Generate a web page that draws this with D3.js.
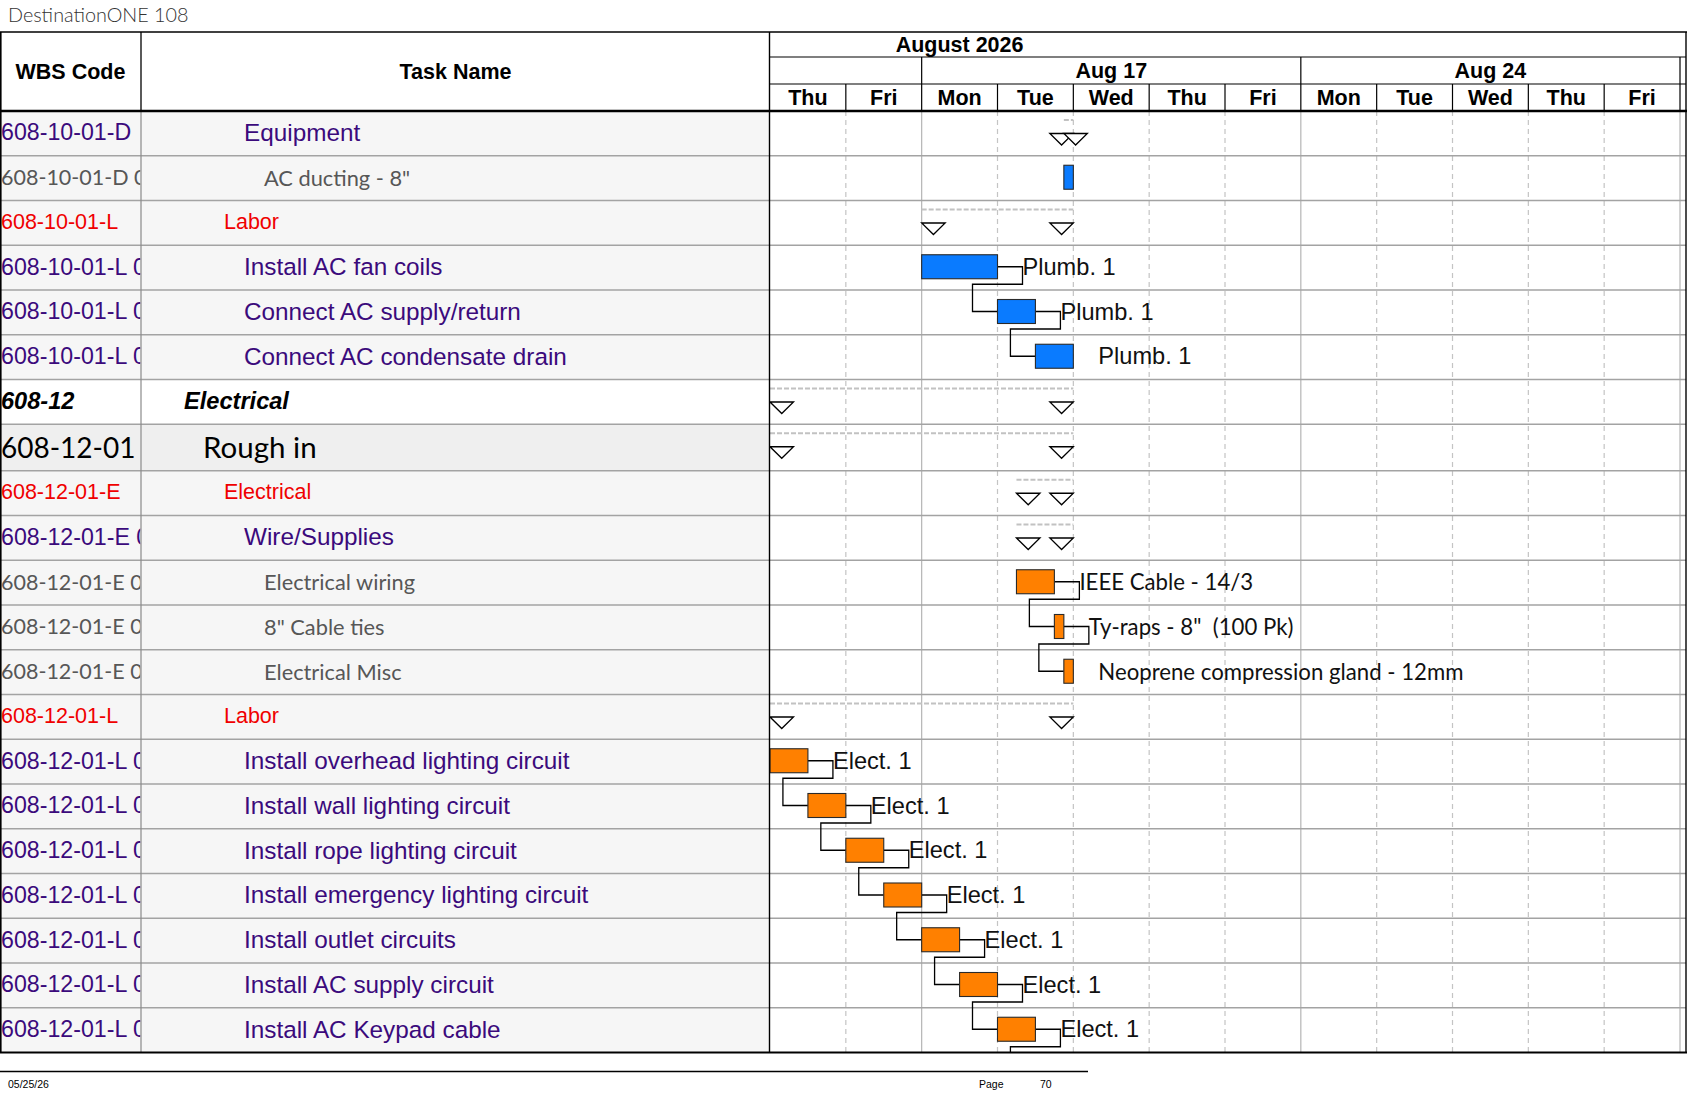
<!DOCTYPE html>
<html>
<head>
<meta charset="utf-8">
<script src="https://cdn.jsdelivr.net/npm/d3@7/dist/d3.min.js"></script>
<style>
  body { margin: 0; background: #fff; }
  svg { display: block; }
</style>
</head>
<body>
<svg id="chart" width="1687" height="1097"></svg>
<script>
// ---------------- DATA ----------------
const titleText = "DestinationONE 108";
const monthLabel = "August 2026";
const dayLabels = ["Thu", "Fri", "Mon", "Tue", "Wed", "Thu", "Fri", "Mon", "Tue", "Wed", "Thu", "Fri"];
const weekLabels = ["", "Aug 17", "Aug 24", ""];
const weekStartDays = [0, 2, 7, 12];
const hoursPerDay = 8;

const wbsCodes = [
  "608-10-01-D", "608-10-01-D 0100", "608-10-01-L", "608-10-01-L 0100", "608-10-01-L 0200",
  "608-10-01-L 0300", "608-12", "608-12-01", "608-12-01-E", "608-12-01-E 01",
  "608-12-01-E 0100", "608-12-01-E 0200", "608-12-01-E 0300", "608-12-01-L", "608-12-01-L 0100",
  "608-12-01-L 0200", "608-12-01-L 0300", "608-12-01-L 0400", "608-12-01-L 0500", "608-12-01-L 0600",
  "608-12-01-L 0700"
];
const taskNames = [
  "Equipment", "AC ducting - 8\"", "Labor", "Install AC fan coils", "Connect AC supply/return",
  "Connect AC condensate drain", "Electrical", "Rough in", "Electrical", "Wire/Supplies",
  "Electrical wiring", "8\" Cable ties", "Electrical Misc", "Labor", "Install overhead lighting circuit",
  "Install wall lighting circuit", "Install rope lighting circuit", "Install emergency lighting circuit",
  "Install outlet circuits", "Install AC supply circuit", "Install AC Keypad cable"
];
// row kind: group / section / phase / sub (summaries), item / task (bars)
const rowKinds = [
  "sub", "item", "phase", "task", "task", "task", "group", "section", "phase", "sub",
  "item", "item", "item", "phase", "task", "task", "task", "task", "task", "task", "task"
];
const rowTrades = [
  "P", "P", "P", "P", "P", "P", "E", "E", "E", "E",
  "E", "E", "E", "E", "E", "E", "E", "E", "E", "E", "E"
];
// working hours counted from Thu Aug 13, 08:00
const startHours = [31, 31, 16, 16, 24, 28, 0, 0, 26, 26, 26, 30, 31, 0, 0, 4, 8, 12, 16, 20, 24];
const endHours   = [32, 32, 32, 24, 28, 32, 32, 32, 32, 32, 30, 31, 32, 32, 4, 8, 12, 16, 20, 24, 28];
const resourceLabels = [
  "", "", "", "Plumb. 1", "Plumb. 1", "Plumb. 1", "", "", "", "",
  "IEEE Cable - 14/3", "Ty-raps - 8\"  (100 Pk)", "Neoprene compression gland - 12mm", "",
  "Elect. 1", "Elect. 1", "Elect. 1", "Elect. 1", "Elect. 1", "Elect. 1", "Elect. 1"
];
// finish-to-start links [predecessor, successor]; successor 21 lies on the next page
const links = [[3, 4], [4, 5], [10, 11], [11, 12], [14, 15], [15, 16], [16, 17], [17, 18], [18, 19], [19, 20], [20, 21]];
const nextPageStartHour = 28;
const footerDate = "05/25/26";
const footerPage = "70";

// ---------------- LAYOUT / STYLE ----------------
const W = 1687, H = 1097;
const tableTop = 32, headerBottom = 111;
const wbsRight = 141, taskRight = 770, gridRight = 1686;
const ARIAL = "'Liberation Sans', Arial, sans-serif";
const SOFT = "Lato, 'Open Sans', sans-serif";
const PURPLE = "#3b0a7c", RED = "#f00000", GREY = "#575757";

const kindStyle = {
  group:   { font: ARIAL, size: 23.6, codeSize: 23.6, weight: "bold", italic: true, color: "#000", indent: 184, bg: "#ffffff", h: 44.75, summary: true },
  section: { font: SOFT, size: 29.5, codeSize: 28, weight: "normal", italic: false, color: "#000", indent: 203, bg: "#efefef", h: 46.5, summary: true },
  phase:   { font: ARIAL, size: 21.5, codeSize: 21.5, weight: "normal", italic: false, color: RED, indent: 224, bg: "#f6f6f6", h: 44.75, summary: true },
  sub:     { font: ARIAL, size: 24.3, codeSize: 23.2, weight: "normal", italic: false, color: PURPLE, indent: 244, bg: "#f6f6f6", h: 44.75, summary: true },
  task:    { font: ARIAL, size: 24.3, codeSize: 23.2, weight: "normal", italic: false, color: PURPLE, indent: 244, bg: "#f6f6f6", h: 44.75, summary: false },
  item:    { font: SOFT, size: 21.8, codeSize: 21.5, weight: "normal", italic: false, color: GREY, indent: 264, bg: "#f6f6f6", h: 44.75, summary: false }
};
const tradeColor = { P: "#0a7bff", E: "#ff8000" };

const rowHeights = rowKinds.map(k => kindStyle[k].h);
const rowTops = [headerBottom, ...Array.from(d3.cumsum(rowHeights), v => headerBottom + v)];
const tableBottom = rowTops[rowKinds.length];

const x = d3.scaleLinear().domain([0, dayLabels.length * hoursPerDay]).range([taskRight, 1680]);
const rowIdx = d3.range(rowKinds.length);

const svg = d3.select("#chart");

// title
svg.append("text").attr("x", 8).attr("y", 22)
  .style("font-family", SOFT).style("font-size", "19.8px").style("font-weight", 300).style("fill", "#333")
  .text(titleText);

// ---------- left table backgrounds ----------
svg.append("g").selectAll("rect").data(rowIdx).join("rect")
  .attr("x", 0).attr("y", i => rowTops[i]).attr("width", taskRight).attr("height", i => rowHeights[i])
  .attr("fill", i => kindStyle[rowKinds[i]].bg);

// ---------- gantt grid ----------
const grid = svg.append("g");
const dayBounds = d3.range(1, dayLabels.length + 1);
grid.selectAll("line").data(dayBounds).join("line")
  .attr("x1", i => x(i * hoursPerDay)).attr("x2", i => x(i * hoursPerDay))
  .attr("y1", headerBottom).attr("y2", tableBottom)
  .attr("stroke", i => weekStartDays.includes(i) ? "#b4b4b4" : "#c4c4c4")
  .attr("stroke-width", 1.2)
  .attr("stroke-dasharray", i => weekStartDays.includes(i) ? null : "5,4");

// horizontal row lines
svg.append("g").selectAll("line").data(rowIdx.slice(1)).join("line")
  .attr("x1", 0).attr("x2", gridRight)
  .attr("y1", i => rowTops[i]).attr("y2", i => rowTops[i])
  .attr("stroke", "#a3a3a3").attr("stroke-width", 1.4);

// WBS column separator
svg.append("line").attr("x1", wbsRight).attr("x2", wbsRight).attr("y1", headerBottom).attr("y2", tableBottom)
  .attr("stroke", "#8a8a8a").attr("stroke-width", 1.2);

// ---------- left table text ----------
const defs = svg.append("defs");
defs.append("clipPath").attr("id", "clipWbs").append("rect")
  .attr("x", 0).attr("y", headerBottom).attr("width", wbsRight - 0.8).attr("height", tableBottom - headerBottom);
defs.append("clipPath").attr("id", "clipTask").append("rect")
  .attr("x", wbsRight).attr("y", headerBottom).attr("width", taskRight - wbsRight).attr("height", tableBottom - headerBottom);
defs.append("clipPath").attr("id", "clipGantt").append("rect")
  .attr("x", taskRight).attr("y", headerBottom).attr("width", gridRight - taskRight).attr("height", tableBottom - headerBottom);

function styleText(sel, sizeKey) {
  sel.style("font-family", i => kindStyle[rowKinds[i]].font)
    .style("font-size", i => kindStyle[rowKinds[i]][sizeKey] + "px")
    .style("font-weight", i => kindStyle[rowKinds[i]].weight)
    .style("font-style", i => kindStyle[rowKinds[i]].italic ? "italic" : "normal")
    .style("fill", i => kindStyle[rowKinds[i]].color)
    .attr("dominant-baseline", "central");
}
svg.append("g").attr("clip-path", "url(#clipWbs)").selectAll("text").data(rowIdx).join("text")
  .attr("x", 1).attr("y", i => rowTops[i] + rowHeights[i] / 2 - 1)
  .text(i => wbsCodes[i]).call(styleText, "codeSize");
svg.append("g").attr("clip-path", "url(#clipTask)").selectAll("text").data(rowIdx).join("text")
  .attr("x", i => kindStyle[rowKinds[i]].indent).attr("y", i => rowTops[i] + rowHeights[i] / 2 - 1)
  .text(i => taskNames[i]).call(styleText, "size");

// ---------- gantt marks ----------
const gantt = svg.append("g").attr("clip-path", "url(#clipGantt)");
const barTop = i => rowTops[i] + 9.5;
const barH = 24;
const barMid = i => barTop(i) + barH / 2;

// summaries
const sumIdx = rowIdx.filter(i => kindStyle[rowKinds[i]].summary);
gantt.append("g").selectAll("line").data(sumIdx).join("line")
  .attr("x1", i => x(startHours[i])).attr("x2", i => x(endHours[i]))
  .attr("y1", i => rowTops[i] + 9).attr("y2", i => rowTops[i] + 9)
  .attr("stroke", "#c2c2c2").attr("stroke-width", 2.2).attr("stroke-dasharray", "5,2");
const triW = 23.5, triH = 11.5;
const triTop = i => rowTops[i] + 22.5;
gantt.append("g").selectAll("path").data(sumIdx).join("path")
  .attr("d", i => { const xe = x(endHours[i]), t = triTop(i);
    return `M${xe - triW},${t}L${xe},${t}L${xe - triW / 2},${t + triH}Z`; })
  .attr("fill", "#fff").attr("stroke", "#000").attr("stroke-width", 1.3);
gantt.append("g").selectAll("path").data(sumIdx).join("path")
  .attr("d", i => { const xs = x(startHours[i]), t = triTop(i);
    return `M${xs},${t}L${xs + triW},${t}L${xs + triW / 2},${t + triH}Z`; })
  .attr("fill", "#fff").attr("stroke", "#000").attr("stroke-width", 1.3);

// links
function startOf(j) { return j < rowKinds.length ? startHours[j] : nextPageStartHour; }
function midOf(j) { return j < rowKinds.length ? barMid(j) : tableBottom + 9.5 + barH / 2; }
gantt.append("g").selectAll("path").data(links).join("path")
  .attr("d", ([p, s]) => {
    const x1 = x(endHours[p]), y1 = barMid(p);
    const xr = x1 + 25, yb = barTop(p) + barH + 5.5;
    const x2 = x(startOf(s)), xl = x2 - 25, y2 = midOf(s);
    return `M${x1},${y1}H${xr}V${yb}H${xl}V${y2}H${x2}`;
  })
  .attr("fill", "none").attr("stroke", "#000").attr("stroke-width", 1.3);

// task bars
const barIdx = rowIdx.filter(i => !kindStyle[rowKinds[i]].summary);
gantt.append("g").selectAll("rect").data(barIdx).join("rect")
  .attr("x", i => x(startHours[i])).attr("y", barTop)
  .attr("width", i => x(endHours[i]) - x(startHours[i])).attr("height", barH)
  .attr("fill", i => tradeColor[rowTrades[i]]).attr("stroke", "#2a2a2a").attr("stroke-width", 1.1);

// resource labels
gantt.append("g").selectAll("text").data(barIdx.filter(i => resourceLabels[i])).join("text")
  .attr("x", i => x(endHours[i]) + 25).attr("y", i => barMid(i))
  .attr("dominant-baseline", "central")
  .style("white-space", "pre")
  .style("font-family", i => rowKinds[i] === "item" ? SOFT : ARIAL)
  .style("font-size", i => rowKinds[i] === "item" ? "22.2px" : "23.6px")
  .style("fill", "#111")
  .text(i => resourceLabels[i]);

// ---------- header ----------
const hdr = svg.append("g");
const hdrFont = s => s.style("font-family", ARIAL).style("font-weight", "bold").style("font-size", "21.5px")
  .style("fill", "#000").attr("text-anchor", "middle").attr("dominant-baseline", "central");
hdr.append("text").attr("x", wbsRight / 2).attr("y", (tableTop + headerBottom) / 2).text("WBS Code").call(hdrFont);
hdr.append("text").attr("x", (wbsRight + taskRight) / 2).attr("y", (tableTop + headerBottom) / 2).text("Task Name").call(hdrFont);
hdr.append("line").attr("x1", wbsRight).attr("x2", wbsRight).attr("y1", tableTop).attr("y2", headerBottom)
  .attr("stroke", "#000").attr("stroke-width", 1.3);

const monthRowB = 57, weekRowB = 84;
hdr.append("text").attr("x", x(2.5 * hoursPerDay)).attr("y", (tableTop + monthRowB) / 2 + 0.5).text(monthLabel).call(hdrFont);
[monthRowB, weekRowB].forEach(yy => hdr.append("line").attr("x1", taskRight).attr("x2", gridRight)
  .attr("y1", yy).attr("y2", yy).attr("stroke", "#000").attr("stroke-width", 1.2));
// week row
hdr.append("g").selectAll("line").data(weekStartDays.slice(1)).join("line")
  .attr("x1", d => x(d * hoursPerDay)).attr("x2", d => x(d * hoursPerDay))
  .attr("y1", monthRowB).attr("y2", weekRowB).attr("stroke", "#000").attr("stroke-width", 1.2);
hdr.append("g").selectAll("text").data(d3.range(weekStartDays.length - 1)).join("text")
  .attr("x", k => (x(weekStartDays[k] * hoursPerDay) + x(weekStartDays[k + 1] * hoursPerDay)) / 2)
  .attr("y", (monthRowB + weekRowB) / 2 + 0.5).text(k => weekLabels[k]).call(hdrFont);
// day row
hdr.append("g").selectAll("line").data(dayBounds).join("line")
  .attr("x1", i => x(i * hoursPerDay)).attr("x2", i => x(i * hoursPerDay))
  .attr("y1", weekRowB).attr("y2", headerBottom).attr("stroke", "#000").attr("stroke-width", 1.2);
hdr.append("g").selectAll("text").data(dayLabels).join("text")
  .attr("x", (d, i) => x((i + 0.5) * hoursPerDay)).attr("y", (weekRowB + headerBottom) / 2 + 0.5)
  .text(d => d).call(hdrFont);

// ---------- borders ----------
svg.append("line").attr("x1", 0).attr("x2", W).attr("y1", tableTop).attr("y2", tableTop).attr("stroke", "#000").attr("stroke-width", 1.5);
svg.append("line").attr("x1", 0).attr("x2", W).attr("y1", headerBottom).attr("y2", headerBottom).attr("stroke", "#000").attr("stroke-width", 2.6);
svg.append("line").attr("x1", 0).attr("x2", W).attr("y1", tableBottom).attr("y2", tableBottom).attr("stroke", "#000").attr("stroke-width", 2);
svg.append("line").attr("x1", 0.8).attr("x2", 0.8).attr("y1", tableTop).attr("y2", tableBottom).attr("stroke", "#000").attr("stroke-width", 1.6);
svg.append("line").attr("x1", taskRight - 0.5).attr("x2", taskRight - 0.5).attr("y1", tableTop).attr("y2", tableBottom).attr("stroke", "#000").attr("stroke-width", 1.4);
svg.append("line").attr("x1", gridRight).attr("x2", gridRight).attr("y1", tableTop).attr("y2", tableBottom).attr("stroke", "#000").attr("stroke-width", 1.4);

// ---------- footer ----------
svg.append("line").attr("x1", 0).attr("x2", 1088).attr("y1", 1071.5).attr("y2", 1071.5).attr("stroke", "#000").attr("stroke-width", 1.5);
const footFont = s => s.style("font-family", "'Liberation Sans Narrow', 'Liberation Sans', Arial, sans-serif")
  .style("font-size", "10.5px").style("fill", "#000").attr("dominant-baseline", "central");
svg.append("text").attr("x", 8).attr("y", 1084).text(footerDate).call(footFont);
svg.append("text").attr("x", 979).attr("y", 1084).text("Page").call(footFont);
svg.append("text").attr("x", 1040).attr("y", 1084).text(footerPage).call(footFont);
</script>
</body>
</html>
